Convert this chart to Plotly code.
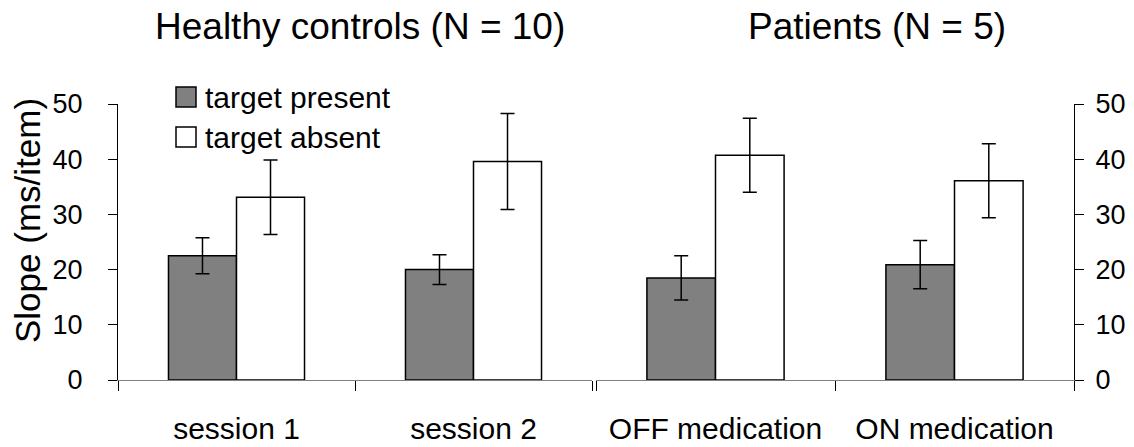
import plotly.graph_objects as go

# categories
groups = ["Healthy controls (N = 10)", "Patients (N = 5)"]
cats_hc = ["session 1", "session 2"]
cats_pt = ["OFF medication", "ON medication"]
series = ["target present", "target absent"]

# slopes (ms/item) and error bars
present_hc = [22.5, 20.0]
present_hc_err = [3.25, 2.7]
absent_hc = [33.1, 39.6]
absent_hc_err = [6.75, 8.7]

present_pt = [18.5, 20.9]
present_pt_err = [4.0, 4.35]
absent_pt = [40.7, 36.1]
absent_pt_err = [6.7, 6.7]

y_ticks = [0, 10, 20, 30, 40, 50]

FONT = "Liberation Sans, Arial, sans-serif"
GRAY = "#808080"
W, H = 1134, 447
ML, MR, MT, MB = 118, 60, 104, 67
PW = W - ML - MR
PH = H - MT - MB


def px_x(p):
    return (p - ML) / PW


def px_y(p):
    return (H - MB - p) / PH


fills = [GRAY, "white"]
err_style = dict(type="data", color="black", thickness=1.5, width=7)

fig = go.Figure()
for i, (vals, errs) in enumerate([(present_hc, present_hc_err), (absent_hc, absent_hc_err)]):
    fig.add_trace(go.Bar(x=cats_hc, y=vals, name=series[i], marker_color=fills[i],
                         marker_line=dict(color="black", width=1.5),
                         error_y=dict(array=errs, **err_style),
                         xaxis="x", yaxis="y", showlegend=False))
for i, (vals, errs) in enumerate([(present_pt, present_pt_err), (absent_pt, absent_pt_err)]):
    fig.add_trace(go.Bar(x=cats_pt, y=vals, name=series[i], marker_color=fills[i],
                         marker_line=dict(color="black", width=1.5),
                         error_y=dict(array=errs, **err_style),
                         xaxis="x2", yaxis="y2", showlegend=False))

xcommon = dict(type="category", range=[-0.5, 1.5], showline=True, linecolor=GRAY, linewidth=1,
               ticks="outside", tickson="boundaries", ticklen=10, tickcolor="black", tickwidth=1,
               showgrid=False, zeroline=False, ticklabelstandoff=22, automargin=False,
               tickfont=dict(family=FONT, size=30, color="black"))
ycommon = dict(range=[0, 50], tickvals=y_ticks, showline=True, linecolor="black", linewidth=1,
               ticks="outside", ticklen=9, tickcolor="black", showgrid=False, zeroline=False,
               automargin=False, tickfont=dict(family=FONT, size=27, color="black"))

fig.update_layout(
    width=W, height=H,
    margin=dict(l=ML, r=MR, t=MT, b=MB, autoexpand=False),
    paper_bgcolor="white", plot_bgcolor="white",
    barmode="group", bargap=0.426, bargroupgap=0,
    xaxis=dict(domain=[0, px_x(592)], anchor="y", **xcommon),
    xaxis2=dict(domain=[px_x(596), 1], anchor="y2", **xcommon),
    yaxis=dict(side="left", ticklabelstandoff=20, **ycommon),
    yaxis2=dict(side="right", overlaying="y", anchor="x2", ticklabelstandoff=6, **ycommon),
)

annotations = [
    dict(text="Slope (ms/item)", x=px_x(27), y=px_y(221), textangle=-90,
         font=dict(family=FONT, size=35, color="black")),
    dict(text=groups[0], x=px_x(360), y=px_y(26), font=dict(family=FONT, size=37, color="black")),
    dict(text=groups[1], x=px_x(877), y=px_y(26), font=dict(family=FONT, size=37, color="black")),
]
for i, name in enumerate(series):
    yc = 97 + 40 * i
    fig.add_shape(type="rect", xref="paper", yref="paper",
                  x0=px_x(176), x1=px_x(196), y0=px_y(yc - 10), y1=px_y(yc + 10),
                  fillcolor=fills[i], line=dict(color="black", width=1.5))
    annotations.append(dict(text=name, x=px_x(203), y=px_y(yc), xanchor="left",
                            font=dict(family=FONT, size=30, color="black")))

for a in annotations:
    a.update(xref="paper", yref="paper", showarrow=False)
    a.setdefault("xanchor", "center")
    a.setdefault("yanchor", "middle")
fig.update_layout(annotations=annotations)

# drop the default body margin so the figure sits at the page origin
fig.write_html("out.html", config={"displayModeBar": False},
               post_script="document.body.style.margin='0';")
